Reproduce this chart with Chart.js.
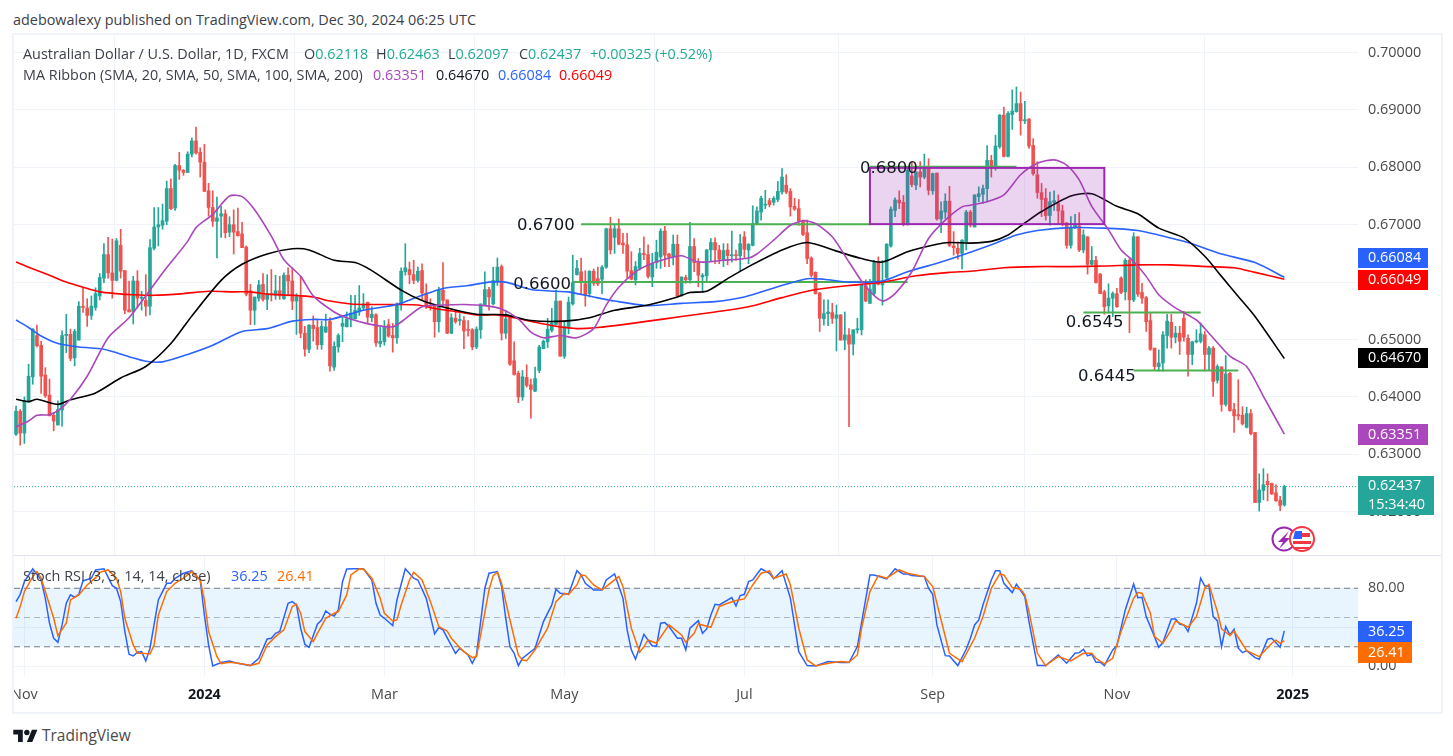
<!DOCTYPE html>
<html>
<head>
<meta charset="utf-8">
<title>AUD/USD</title>
<script src="https://cdn.jsdelivr.net/npm/chart.js@4"></script>
<style>
    html, body { margin: 0; padding: 0; background: #fff; }
    body { width: 1453px; height: 756px; position: relative; overflow: hidden; font-family: "Open Sans", sans-serif; color: #3c3f48; }
    canvas { position: absolute; }
    #frame { position: absolute; left: 12px; top: 33px; width: 1427px; height: 677px; border: 2px solid #f0f3fa; }
    #split { position: absolute; left: 14px; top: 555px; width: 1427px; height: 1px; background: #e0e3eb; }
    .t { position: absolute; white-space: pre; font-size: 14.4px; line-height: 18px; }
    #logo { position: absolute; left: 13px; top: 727px; }
    #events { position: absolute; left: 1268px; top: 522px; }
</style>
</head>
<body>
<div class="t" style="left:13px;top:11px">adebowalexy published on TradingView.com, Dec 30, 2024 06:25 UTC</div>
<div id="frame"></div>
<canvas id="price-chart" width="1427" height="520" style="left:14px;top:35px"></canvas>
<canvas id="rsi-chart" width="1427" height="156" style="left:14px;top:556px"></canvas>
<div id="split"></div>

<div class="t" style="left:23px;top:45px">Australian Dollar / U.S. Dollar, 1D, FXCM</div>
<div class="t" style="left:304px;top:45px">O<span style="color:#22ab94">0.62118</span></div>
<div class="t" style="left:376px;top:45px">H<span style="color:#22ab94">0.62463</span></div>
<div class="t" style="left:448px;top:45px">L<span style="color:#22ab94">0.62097</span></div>
<div class="t" style="left:519px;top:45px">C<span style="color:#22ab94">0.62437</span></div>
<div class="t" style="left:590px;top:45px;color:#22ab94">+0.00325 (+0.52%)</div>
<div class="t" style="left:23px;top:66px">MA Ribbon (SMA, 20, SMA, 50, SMA, 100, SMA, 200)</div>
<div class="t" style="left:373px;top:66px;color:#ab47bc">0.63351</div>
<div class="t" style="left:436px;top:66px;color:#131722">0.64670</div>
<div class="t" style="left:498px;top:66px;color:#2962ff">0.66084</div>
<div class="t" style="left:559px;top:66px;color:#ff0000">0.66049</div>
<div class="t" style="left:23px;top:567px">Stoch RSI (3, 3, 14, 14, close)</div>
<div class="t" style="left:231px;top:567px;color:#2962ff">36.25</div>
<div class="t" style="left:277px;top:567px;color:#ff6d00">26.41</div>

<svg id="events" width="50" height="34" viewBox="0 0 50 34">
    <circle cx="16" cy="17" r="11.5" fill="#fff" stroke="#9c27b0" stroke-width="2"/>
    <path d="M21 9 L10 20 L15 20 L11 27 L22 16 L17 16 Z" fill="#9c27b0"/>
    <circle cx="34" cy="17" r="12" fill="#fff" stroke="#f23645" stroke-width="2"/>
    <path d="M25 19 H43 V22 H25 Z M27 25 H41 V27 H27 Z M34 11 H42 V15 H34 Z" fill="#f23645"/>
    <path d="M27 9 H34 V17 H25 Z" fill="#2962ff"/>
</svg>

<svg id="logo" width="25" height="19" viewBox="0 0 36 28" fill="#131722">
    <path d="M14 22H7V11H0V4h14v18zM28 22h-8l7.5-18h8L28 22z"/><circle cx="20" cy="8" r="4"/>
</svg>
<div class="t" style="left:42px;top:726px;font-size:15.5px;color:#4a4a4a">TradingView</div>

<script>
// Daily AUD/USD bars
const barOpen = [
    0.6335,0.6375,0.6337,0.6391,0.6435,0.6507,0.6490,0.6438,0.6403,0.6368,
    0.6351,0.6377,0.6507,0.6509,0.6468,0.6499,0.6558,0.6555,0.6542,0.6556,
    0.6576,0.6607,0.6648,0.6616,0.6603,0.6664,0.6620,0.6552,0.6548,0.6602,
    0.6572,0.6568,0.6558,0.6659,0.6696,0.6699,0.6706,0.6763,0.6729,0.6803,
    0.6795,0.6791,0.6823,0.6846,0.6826,0.6809,0.6759,0.6730,0.6706,0.6715,
    0.6719,0.6687,0.6700,0.6688,0.6684,0.6661,0.6585,0.6551,0.6572,0.6596,
    0.6570,0.6580,0.6577,0.6585,0.6571,0.6612,0.6602,0.6567,0.6574,0.6511,
    0.6483,0.6525,0.6521,0.6491,0.6513,0.6532,0.6452,0.6487,0.6523,0.6522,
    0.6536,0.6536,0.6548,0.6555,0.6565,0.6538,0.6543,0.6493,0.6496,0.6526,
    0.6507,0.6503,0.6562,0.6618,0.6622,0.6613,0.6603,0.6620,0.6581,0.6559,
    0.6559,0.6531,0.6586,0.6569,0.6511,0.6537,0.6533,0.6533,0.6517,0.6517,
    0.6487,0.6517,0.6561,0.6587,0.6562,0.6600,0.6627,0.6511,0.6538,0.6463,
    0.6441,0.6400,0.6434,0.6421,0.6410,0.6446,0.6484,0.6496,0.6516,0.6526,
    0.6567,0.6471,0.6521,0.6562,0.6613,0.6618,0.6597,0.6580,0.6619,0.6606,
    0.6605,0.6626,0.6693,0.6678,0.6693,0.6668,0.6665,0.6620,0.6604,0.6624,
    0.6650,0.6648,0.6609,0.6634,0.6644,0.6689,0.6649,0.6644,0.6666,0.6577,
    0.6608,0.6604,0.6662,0.6634,0.6609,0.6611,0.6656,0.6669,0.6656,0.6638,
    0.6656,0.6646,0.6647,0.6646,0.6679,0.6656,0.6664,0.6702,0.6722,0.6734,
    0.6742,0.6739,0.6744,0.6757,0.6769,0.6758,0.6732,0.6728,0.6707,0.6686,
    0.6642,0.6617,0.6581,0.6536,0.6545,0.6547,0.6537,0.6543,0.6499,0.6508,
    0.6492,0.6517,0.6517,0.6594,0.6563,0.6580,0.6634,0.6595,0.6608,0.6663,
    0.6725,0.6743,0.6739,0.6701,0.6785,0.6769,0.6792,0.6783,0.6800,0.6759,
    0.6790,0.6710,0.6722,0.6741,0.6663,0.6659,0.6650,0.6670,0.6722,0.6696,
    0.6749,0.6753,0.6763,0.6812,0.6800,0.6836,0.6891,0.6819,0.6892,0.6897,
    0.6911,0.6881,0.6884,0.6838,0.6787,0.6756,0.6746,0.6716,0.6739,0.6737,
    0.6724,0.6703,0.6664,0.6695,0.6698,0.6656,0.6679,0.6631,0.6638,0.6614,
    0.6583,0.6559,0.6572,0.6580,0.6607,0.6583,0.6638,0.6569,0.6679,0.6582,
    0.6573,0.6533,0.6485,0.6453,0.6459,0.6507,0.6530,0.6504,0.6511,0.6537,
    0.6502,0.6474,0.6496,0.6497,0.6508,0.6474,0.6485,0.6429,0.6452,0.6387,
    0.6441,0.6378,0.6369,0.6368,0.6347,0.6371,0.6338,0.6216,0.6237,0.6253,
    0.6249,0.6233,0.6220,0.62118
];
const barHigh = [
    0.6384,0.6378,0.6400,0.6457,0.6519,0.6525,0.6497,0.6451,0.6431,0.6373,
    0.6393,0.6515,0.6544,0.6518,0.6518,0.6566,0.6590,0.6571,0.6576,0.6590,
    0.6615,0.6667,0.6678,0.6675,0.6676,0.6692,0.6620,0.6602,0.6610,0.6620,
    0.6584,0.6613,0.6674,0.6730,0.6730,0.6736,0.6776,0.6780,0.6805,0.6826,
    0.6796,0.6827,0.6851,0.6870,0.6834,0.6840,0.6772,0.6759,0.6748,0.6732,
    0.6726,0.6714,0.6726,0.6729,0.6704,0.6663,0.6596,0.6574,0.6603,0.6615,
    0.6613,0.6622,0.6612,0.6610,0.6616,0.6625,0.6625,0.6580,0.6610,0.6523,
    0.6526,0.6541,0.6534,0.6532,0.6544,0.6538,0.6496,0.6510,0.6542,0.6548,
    0.6577,0.6577,0.6594,0.6580,0.6565,0.6557,0.6545,0.6521,0.6533,0.6535,
    0.6528,0.6564,0.6625,0.6667,0.6635,0.6638,0.6626,0.6632,0.6597,0.6571,
    0.6560,0.6591,0.6634,0.6569,0.6545,0.6551,0.6545,0.6540,0.6533,0.6519,
    0.6522,0.6562,0.6618,0.6591,0.6626,0.6642,0.6630,0.6551,0.6542,0.6496,
    0.6445,0.6446,0.6456,0.6431,0.6452,0.6490,0.6499,0.6537,0.6554,0.6586,
    0.6567,0.6533,0.6574,0.6647,0.6638,0.6642,0.6620,0.6620,0.6623,0.6626,
    0.6629,0.6694,0.6713,0.6701,0.6710,0.6685,0.6685,0.6653,0.6636,0.6659,
    0.6679,0.6665,0.6650,0.6673,0.6693,0.6697,0.6650,0.6682,0.6682,0.6609,
    0.6612,0.6704,0.6676,0.6641,0.6615,0.6657,0.6676,0.6677,0.6664,0.6667,
    0.6667,0.6689,0.6656,0.6683,0.6688,0.6667,0.6733,0.6731,0.6750,0.6760,
    0.6746,0.6749,0.6775,0.6798,0.6787,0.6763,0.6746,0.6744,0.6708,0.6708,
    0.6644,0.6618,0.6582,0.6569,0.6569,0.6563,0.6560,0.6543,0.6548,0.6519,
    0.6517,0.6537,0.6595,0.6604,0.6605,0.6638,0.6644,0.6638,0.6667,0.6731,
    0.6747,0.6759,0.6751,0.6798,0.6810,0.6792,0.6810,0.6823,0.6815,0.6790,
    0.6790,0.6740,0.6754,0.6767,0.6688,0.6670,0.6674,0.6725,0.6725,0.6752,
    0.6766,0.6769,0.6838,0.6821,0.6856,0.6892,0.6905,0.6897,0.6935,0.6940,
    0.6931,0.6915,0.6885,0.6850,0.6810,0.6772,0.6763,0.6757,0.6759,0.6752,
    0.6734,0.6704,0.6714,0.6718,0.6721,0.6691,0.6679,0.6662,0.6645,0.6615,
    0.6586,0.6597,0.6583,0.6589,0.6609,0.6641,0.6641,0.6686,0.6679,0.6598,
    0.6575,0.6546,0.6485,0.6482,0.6514,0.6544,0.6544,0.6523,0.6523,0.6549,
    0.6508,0.6497,0.6517,0.6529,0.6514,0.6488,0.6488,0.6456,0.6453,0.6472,
    0.6443,0.6389,0.6430,0.6383,0.6382,0.6378,0.6338,0.6266,0.6275,0.6266,
    0.6250,0.6247,0.6227,0.62463
];
const barLow = [
    0.6333,0.6316,0.6319,0.6390,0.6422,0.6487,0.6406,0.6399,0.6367,0.6341,
    0.6351,0.6349,0.6477,0.6463,0.6454,0.6499,0.6547,0.6523,0.6535,0.6551,
    0.6569,0.6599,0.6607,0.6572,0.6602,0.6607,0.6545,0.6548,0.6527,0.6555,
    0.6551,0.6541,0.6543,0.6656,0.6663,0.6692,0.6700,0.6726,0.6725,0.6779,
    0.6786,0.6791,0.6818,0.6823,0.6783,0.6758,0.6715,0.6697,0.6642,0.6678,
    0.6677,0.6679,0.6649,0.6680,0.6660,0.6576,0.6526,0.6526,0.6567,0.6567,
    0.6552,0.6567,0.6570,0.6570,0.6570,0.6576,0.6552,0.6509,0.6503,0.6471,
    0.6477,0.6497,0.6483,0.6483,0.6512,0.6445,0.6446,0.6478,0.6496,0.6522,
    0.6522,0.6536,0.6542,0.6551,0.6528,0.6531,0.6488,0.6487,0.6490,0.6504,
    0.6478,0.6493,0.6551,0.6612,0.6597,0.6597,0.6600,0.6568,0.6554,0.6551,
    0.6504,0.6513,0.6560,0.6510,0.6510,0.6528,0.6525,0.6484,0.6506,0.6482,
    0.6484,0.6502,0.6560,0.6551,0.6560,0.6594,0.6499,0.6502,0.6455,0.6438,
    0.6390,0.6394,0.6417,0.6363,0.6409,0.6442,0.6484,0.6486,0.6513,0.6525,
    0.6471,0.6467,0.6510,0.6560,0.6612,0.6580,0.6558,0.6574,0.6594,0.6594,
    0.6580,0.6624,0.6649,0.6650,0.6665,0.6650,0.6607,0.6604,0.6595,0.6621,
    0.6639,0.6607,0.6592,0.6624,0.6624,0.6627,0.6627,0.6630,0.6575,0.6575,
    0.6598,0.6598,0.6618,0.6592,0.6584,0.6602,0.6635,0.6632,0.6632,0.6627,
    0.6630,0.6635,0.6638,0.6620,0.6641,0.6632,0.6663,0.6700,0.6708,0.6728,
    0.6731,0.6734,0.6740,0.6753,0.6754,0.6715,0.6725,0.6699,0.6681,0.6632,
    0.6609,0.6579,0.6514,0.6525,0.6524,0.6528,0.6480,0.6499,0.6482,0.6348,
    0.6473,0.6511,0.6508,0.6566,0.6563,0.6577,0.6595,0.6560,0.6606,0.6661,
    0.6714,0.6728,0.6698,0.6699,0.6766,0.6761,0.6766,0.6780,0.6752,0.6753,
    0.6708,0.6686,0.6711,0.6662,0.6647,0.6640,0.6623,0.6656,0.6696,0.6696,
    0.6740,0.6737,0.6740,0.6783,0.6795,0.6833,0.6818,0.6818,0.6866,0.6896,
    0.6856,0.6876,0.6833,0.6786,0.6746,0.6714,0.6708,0.6699,0.6725,0.6702,
    0.6698,0.6659,0.6659,0.6693,0.6653,0.6651,0.6614,0.6627,0.6598,0.6580,
    0.6544,0.6546,0.6540,0.6556,0.6580,0.6569,0.6512,0.6566,0.6575,0.6563,
    0.6514,0.6481,0.6447,0.6445,0.6445,0.6485,0.6485,0.6494,0.6474,0.6497,
    0.6436,0.6456,0.6494,0.6494,0.6445,0.6447,0.6401,0.6424,0.6375,0.6384,
    0.6375,0.6338,0.6360,0.6351,0.6346,0.6334,0.6216,0.6201,0.6221,0.6219,
    0.6230,0.6218,0.6202,0.62097
];
const barClose = [
    0.6375,0.6337,0.6394,0.6436,0.6518,0.6489,0.6436,0.6402,0.6367,0.6358,
    0.6378,0.6507,0.6509,0.6467,0.6514,0.6558,0.6556,0.6542,0.6558,0.6580,
    0.6608,0.6648,0.6616,0.6603,0.6672,0.6619,0.6551,0.6548,0.6602,0.6572,
    0.6573,0.6558,0.6660,0.6696,0.6700,0.6707,0.6763,0.6728,0.6803,0.6795,
    0.6791,0.6823,0.6846,0.6825,0.6809,0.6758,0.6730,0.6706,0.6712,0.6719,
    0.6686,0.6700,0.6687,0.6681,0.6660,0.6579,0.6551,0.6574,0.6595,0.6570,
    0.6580,0.6578,0.6585,0.6576,0.6612,0.6602,0.6567,0.6574,0.6511,0.6483,
    0.6525,0.6519,0.6491,0.6523,0.6522,0.6454,0.6488,0.6507,0.6528,0.6536,
    0.6546,0.6551,0.6555,0.6562,0.6539,0.6544,0.6494,0.6497,0.6521,0.6506,
    0.6503,0.6562,0.6619,0.6625,0.6613,0.6603,0.6619,0.6581,0.6557,0.6558,
    0.6531,0.6586,0.6568,0.6511,0.6538,0.6531,0.6535,0.6515,0.6516,0.6487,
    0.6518,0.6562,0.6587,0.6574,0.6603,0.6626,0.6511,0.6536,0.6457,0.6439,
    0.6400,0.6435,0.6420,0.6413,0.6432,0.6487,0.6497,0.6518,0.6529,0.6567,
    0.6471,0.6523,0.6565,0.6599,0.6624,0.6599,0.6577,0.6619,0.6598,0.6597,
    0.6626,0.6693,0.6656,0.6693,0.6666,0.6665,0.6619,0.6605,0.6627,0.6650,
    0.6648,0.6610,0.6632,0.6652,0.6689,0.6647,0.6644,0.6666,0.6576,0.6609,
    0.6604,0.6662,0.6634,0.6612,0.6612,0.6656,0.6669,0.6656,0.6640,0.6655,
    0.6646,0.6647,0.6646,0.6667,0.6657,0.6666,0.6702,0.6724,0.6746,0.6735,
    0.6735,0.6746,0.6758,0.6783,0.6757,0.6731,0.6727,0.6707,0.6683,0.6641,
    0.6612,0.6580,0.6537,0.6545,0.6548,0.6537,0.6543,0.6499,0.6508,0.6492,
    0.6517,0.6518,0.6595,0.6567,0.6588,0.6634,0.6596,0.6602,0.6666,0.6727,
    0.6743,0.6738,0.6700,0.6795,0.6770,0.6792,0.6783,0.6798,0.6760,0.6789,
    0.6710,0.6724,0.6741,0.6664,0.6660,0.6650,0.6673,0.6722,0.6699,0.6752,
    0.6754,0.6763,0.6812,0.6800,0.6837,0.6891,0.6819,0.6894,0.6898,0.6911,
    0.6881,0.6883,0.6837,0.6789,0.6756,0.6744,0.6716,0.6740,0.6742,0.6724,
    0.6701,0.6664,0.6695,0.6700,0.6656,0.6682,0.6631,0.6638,0.6599,0.6580,
    0.6557,0.6572,0.6580,0.6557,0.6582,0.6638,0.6569,0.6679,0.6579,0.6572,
    0.6531,0.6483,0.6453,0.6459,0.6508,0.6532,0.6504,0.6511,0.6497,0.6504,
    0.6474,0.6496,0.6498,0.6510,0.6474,0.6485,0.6427,0.6453,0.6387,0.6440,
    0.6376,0.6367,0.6367,0.6353,0.6371,0.6336,0.6216,0.6238,0.6247,0.6247,
    0.6231,0.6219,0.6211,0.62437
];

// Moving averages: bar number + value where the curve was read
const sma20Bars = [0,3,5,8,10,13,17,22,27,31,35,41,43,47,51,54,57,61,64,68,71,76,79,85,90,93,97,102,107,112,116,120,123,126,130,134,138,141,144,148,151,155,159,163,169,175,177,181,185,188,191,195,199,203,207,210,214,218,222,226,228,232,236,240,244,248,251,254,257,261,264,267,270,273,277,282,285,290,294,298,303];
const sma20Vals = [0.6348,0.6358,0.6368,0.6369,0.6376,0.6396,0.6436,0.6503,0.6538,0.6576,0.6616,0.6671,0.6695,0.6718,0.6750,0.6749,0.6726,0.6680,0.6639,0.6610,0.6576,0.6548,0.6538,0.6526,0.6522,0.6536,0.6557,0.6560,0.6561,0.6559,0.6553,0.6536,0.6513,0.6503,0.6507,0.6503,0.6519,0.6560,0.6591,0.6618,0.6630,0.6640,0.6646,0.6635,0.6638,0.6642,0.6649,0.6673,0.6699,0.6707,0.6702,0.6679,0.6635,0.6592,0.6567,0.6580,0.6618,0.6676,0.6708,0.6731,0.6734,0.6740,0.6752,0.6787,0.6807,0.6813,0.6804,0.6778,0.6732,0.6691,0.6656,0.6636,0.6610,0.6578,0.6555,0.6534,0.6511,0.6471,0.6453,0.6401,0.63351];
const sma50Bars = [0,3,5,10,13,19,25,31,37,42,49,54,60,66,70,76,81,85,92,97,103,110,117,123,131,137,143,151,158,161,165,170,175,183,189,196,202,207,213,220,223,228,233,237,241,245,252,257,263,268,273,279,284,288,292,296,303];
const sma50Vals = [0.6396,0.6392,0.6396,0.6387,0.6395,0.6407,0.6433,0.6453,0.6493,0.6541,0.6603,0.6631,0.6649,0.6658,0.6656,0.6638,0.6634,0.6620,0.6586,0.6568,0.6555,0.6544,0.6543,0.6533,0.6532,0.6538,0.6551,0.6560,0.6574,0.6582,0.6584,0.6606,0.6627,0.6656,0.6669,0.6654,0.6641,0.6635,0.6653,0.6666,0.6669,0.6668,0.6671,0.6682,0.6703,0.6723,0.6750,0.6754,0.6732,0.6719,0.6694,0.6677,0.6645,0.6610,0.6575,0.6540,0.6467];
const sma100Bars = [0,3,6,10,15,21,27,31,35,41,47,54,60,66,71,75,83,91,97,102,108,113,117,123,129,132,138,143,151,159,167,174,182,189,193,199,207,213,221,228,233,239,244,252,260,268,273,280,288,296,303];
const sma100Vals = [0.6534,0.6521,0.6506,0.6493,0.6487,0.6483,0.6470,0.6462,0.6461,0.6474,0.6490,0.6514,0.6519,0.6532,0.6535,0.6535,0.6551,0.6561,0.6577,0.6589,0.6594,0.6600,0.6600,0.6587,0.6584,0.6583,0.6574,0.6567,0.6559,0.6563,0.6566,0.6574,0.6592,0.6606,0.6605,0.6600,0.6602,0.6618,0.6635,0.6652,0.6665,0.6682,0.6690,0.6695,0.6694,0.6690,0.6682,0.6669,0.6649,0.6634,0.66084];
const sma200Bars = [0,3,8,12,16,20,24,28,33,40,46,52,56,60,66,71,75,80,85,91,96,100,105,110,115,119,124,129,134,139,145,151,159,167,175,183,191,199,207,215,223,228,236,244,252,260,268,276,285,291,296,303];
const sma200Vals = [0.6635,0.6626,0.6612,0.6600,0.6591,0.6583,0.6580,0.6578,0.6577,0.6580,0.6584,0.6583,0.6583,0.6579,0.6577,0.6574,0.6567,0.6562,0.6561,0.6561,0.6560,0.6554,0.6549,0.6543,0.6543,0.6538,0.6530,0.6523,0.6519,0.6521,0.6526,0.6532,0.6540,0.6548,0.6557,0.6573,0.6587,0.6594,0.6600,0.6611,0.6617,0.6619,0.6625,0.6627,0.6627,0.6628,0.6630,0.6630,0.6627,0.6625,0.6617,0.66049];

// Stoch RSI K and D
const rsiKBars = [0,1,2,4,6,7,8,9,10,11,12,13,14,15,16,18,19,21,23,24,25,26,27,28,29,30,31,32,34,35,36,37,38,40,42,44,45,46,47,49,51,53,56,58,60,61,62,63,65,66,67,68,69,70,72,73,74,75,76,77,78,79,81,83,85,86,87,88,90,91,93,95,96,98,100,101,102,105,106,108,109,110,112,113,115,116,117,118,119,120,121,124,126,128,129,130,132,134,135,136,138,140,141,143,145,146,147,148,150,152,153,154,155,156,158,159,160,161,163,164,165,166,167,168,171,172,173,174,175,176,178,180,181,183,185,187,189,191,194,197,199,201,204,205,208,210,212,213,214,217,218,219,220,222,223,225,227,228,229,230,231,233,234,235,236,238,239,241,242,244,246,249,251,253,254,255,256,257,258,259,260,262,263,265,267,268,269,270,271,273,274,276,277,278,279,280,281,282,283,284,285,286,287,288,289,290,291,292,293,294,296,297,299,300,302,303];
const rsiKVals = [66.3,73.8,86.8,100,88.5,69.7,44.1,28.7,24.6,42.4,64.6,73.2,70.8,73.8,87.5,90.3,98.8,100,82.7,80,66.3,35.6,12.3,10.6,14.4,15,5.5,18.5,68,76.6,85.1,85.1,90.3,95.4,97.8,88.5,52.6,21.9,0.3,3.8,5.5,3,0.7,8.2,28,28.7,33.8,35.6,64.6,66.3,62.9,39,22.6,19.5,43.1,47.5,56.8,53.3,51.6,57.8,86.8,99.8,100,100,88.5,64.6,52.6,49.2,41.7,68,100,90.3,88.5,69.7,33.2,39.7,37.3,13.3,18.5,11.6,3.1,11.6,80,95.4,97.1,81.7,49.2,20.2,13.3,0.7,8.2,18.5,45.8,62.9,79,74.9,73.8,98.1,93.7,85.1,78.3,78.3,88.5,94.7,69.7,37.3,16.8,7.2,32.8,20.9,20.9,44.1,44.8,40.7,28.7,28.7,16.8,39,46.8,33.8,38.3,52.6,63.6,62.9,70.4,61.9,72.5,73.8,86.8,88.5,100,95.4,89.6,98.1,69.7,15,0.7,0.3,4.8,3.8,3.8,20.2,93.7,93.7,89.6,100,94.7,94.7,93,92,80,73.8,42.4,10.9,10.6,0.7,17.4,28.7,42.4,47.5,62.9,88.5,98.1,98.1,85.1,75.6,84.1,71.5,45.8,0.7,0.7,11.6,3.1,13.3,14,17.4,10.6,12.3,4.1,4.1,0.7,16.8,21.2,57.8,84.4,70.4,70.8,50.9,40.7,19.5,24.3,48.5,48.5,43.4,42.4,35.6,50.3,64.6,90.3,82.4,82.4,50.9,46.8,20.2,40.7,32.1,37.9,18.5,14,16.1,8.9,7.2,27.7,28.7,19.5,36.25];
const rsiDBars = [0,1,2,4,5,6,7,9,10,12,13,15,17,19,20,22,24,25,26,28,29,30,32,33,34,36,38,40,42,44,45,46,48,49,51,53,56,58,60,62,64,66,67,68,69,71,72,74,76,77,79,80,82,83,85,87,88,90,91,92,94,95,97,99,101,103,104,106,107,109,110,111,113,114,115,116,118,120,121,122,124,127,129,131,132,134,135,136,138,140,144,145,147,149,150,151,153,156,158,159,160,162,163,166,168,170,172,174,176,178,180,181,184,185,187,189,191,194,197,199,201,202,204,206,208,211,213,217,219,221,223,226,229,231,233,235,236,238,240,241,242,244,246,247,249,252,255,257,258,260,262,264,267,268,269,271,272,274,276,277,280,282,284,285,287,288,290,291,294,297,300,301,302,303];
const rsiDVals = [49.2,61.2,76.6,92,97.1,90.3,76.6,49.2,31.5,44.1,68,73.2,83.4,90.9,96.4,98.8,90.3,76.6,49.2,21.9,13.3,13.3,12.6,21.9,52.6,76.6,85.1,90.3,97.1,88.5,68,35.6,9.9,2.7,4.1,3.1,0.7,3.1,21.9,30.4,37.3,61.2,63.6,54.4,35.6,25.3,33.8,49.2,54.4,56.1,73.2,93.7,100,99.8,90.3,69.7,54.4,46.5,47.5,62.9,88.5,96.4,88.5,66.3,40.7,36.2,28.7,19.1,15,8.9,9.9,32.1,78.3,93,96.4,85.1,47.5,11.6,6.5,5.8,16.8,39,66.3,74.9,73.8,83.4,93.7,93,83.4,78.3,92,81.7,39,14.4,20.2,27,23.6,42.4,35.6,32.1,24.6,33.8,43.4,40,61.2,64.6,67.4,69.1,83.4,95.4,97.8,90.3,94.7,83.4,39,6.5,0.3,3.1,4.8,4.1,11.6,39,76.6,93,90.3,98.8,95.4,92,81.7,47.5,13.3,4.8,28.7,50.9,80,94.7,93.7,80.7,79,73.2,56.1,13.3,0.3,4.1,9.9,5.5,13.3,13.3,8.2,2.4,8.2,35.6,69.7,75.6,74.9,54.4,30.4,23.6,37.3,46.5,40,50.9,80,84.1,56.1,38.3,31.5,36.2,16.1,9.9,23.6,26.7,23.6,26.41];

// Time axis
const tickBars = [2, 45, 88, 131, 174, 219, 263, 305];
const tickLabels = ['Nov', '2024', 'Mar', 'May', 'Jul', 'Sep', 'Nov', '2025'];
const priceTicks = [0.62, 0.63, 0.64, 0.65, 0.66, 0.67, 0.68, 0.69, 0.70];
const rsiTicks = [0, 40, 80];

// Hand drawn levels
const levelNames = ['0.6800', '0.6700', '0.6600', '0.6545', '0.6445'];
const levelPrices = [0.6801, 0.6701, 0.6600, 0.6547, 0.6446];
const levelFrom = [204, 135, 133, 255, 267];
const levelTo = [239, 204, 213, 283, 292];

const boxBars = [204, 260];
const boxPrices = [0.6701, 0.6799];
const lastPrice = 0.62437;

const UP = '#26a69a';
const DOWN = '#ef5350';
const FONT = '"Open Sans", sans-serif';
const xMin = -0.485, xMax = 320.6;

const barColors = barOpen.map((o, i) => barClose[i] >= o ? UP : DOWN);

function pairs(xs, ys) {
    return xs.map((x, i) => ({ x: x, y: ys[i] }));
}

function curve(xs, ys, color, order) {
    return { type: 'line', data: pairs(xs, ys), borderColor: color, borderWidth: 1.6, pointRadius: 0, tension: 0.25, order: order };
}

function flat(y, x0, x1, color, width, dash, order) {
    return { type: 'line', data: [{ x: x0, y: y }, { x: x1, y: y }], borderColor: color, borderWidth: width, borderDash: dash, pointRadius: 0, order: order };
}

// The plot has to reach the pane edges, so axes may not ask for room around their labels
function noPadding(scale) {
    scale.getPadding = () => ({ left: 0, top: 0, right: 0, bottom: 0 });
}

function xAxis(showLabels) {
    return {
        type: 'linear', min: xMin, max: xMax, offset: false,
        grid: { color: '#f0f3fa', drawTicks: false },
        border: { display: false },
        beforeUpdate: noPadding,
        afterBuildTicks: scale => { scale.ticks = tickBars.map(v => ({ value: v })); },
        afterFit: scale => { scale.height = showLabels ? 35 : 0; },
        ticks: {
            display: showLabels, autoSkip: false, maxRotation: 0, padding: 9,
            color: ctx => ctx.index === 1 || ctx.index === 7 ? '#131722' : '#4a4a4a',
            font: ctx => ({ family: FONT, size: 14.4, weight: ctx.index === 1 || ctx.index === 7 ? 'bold' : 'normal' }),
            callback: (v, i) => tickLabels[i]
        }
    };
}

function yAxis(min, max, ticks, digits) {
    return {
        position: 'right', min: min, max: max,
        grid: { color: '#f0f3fa', drawTicks: false },
        border: { display: false },
        beforeUpdate: noPadding,
        afterBuildTicks: scale => { scale.ticks = ticks.map(v => ({ value: v })); },
        afterFit: scale => { scale.width = 83; },
        ticks: { color: '#4a4a4a', padding: 10, font: { family: FONT, size: 14.4 }, callback: v => v.toFixed(digits) }
    };
}

// Coloured value tags on the right axis. Tags are pushed apart by hand like the original.
function drawTag(ctx, top, bottom, width, color, lines) {
    ctx.fillStyle = color;
    ctx.fillRect(1344, top, width, bottom - top);
    ctx.fillStyle = '#fff';
    ctx.textAlign = 'left';
    ctx.textBaseline = 'middle';
    ctx.font = '14.4px ' + FONT;
    const step = (bottom - top) / lines.length;
    lines.forEach((t, i) => ctx.fillText(t, 1354, top + step * (i + 0.5)));
}

const priceOverlay = {
    id: 'priceOverlay',
    afterDatasetsDraw(chart) {
        const { ctx, scales: { x, y } } = chart;
        ctx.save();
        const bx = x.getPixelForValue(boxBars[0]), bw = x.getPixelForValue(boxBars[1]) - bx;
        const by = y.getPixelForValue(boxPrices[1]), bh = y.getPixelForValue(boxPrices[0]) - by;
        ctx.fillStyle = 'rgba(156,39,176,0.2)';
        ctx.fillRect(bx, by, bw, bh);
        ctx.strokeStyle = '#9c27b0';
        ctx.lineWidth = 2;
        ctx.strokeRect(bx, by, bw, bh);

        ctx.fillStyle = '#131722';
        ctx.font = '16.5px "DejaVu Sans"';
        ctx.textAlign = 'right';
        ctx.textBaseline = 'middle';
        // label right edge against its level line
        const labelBars = [215.4, 133.5, 132.6, 264.6, 267.5];
        const drop = [2, 2, 3, 10, 6];
        levelNames.forEach((name, i) => {
            ctx.fillText(name, x.getPixelForValue(labelBars[i]), y.getPixelForValue(levelPrices[i]) + drop[i]);
        });
        ctx.restore();
    },
    afterDraw(chart) {
        const ctx = chart.ctx;
        ctx.save();
        drawTag(ctx, 213, 233, 70, '#2962ff', ['0.66084']);
        drawTag(ctx, 235, 255, 70, '#ff0000', ['0.66049']);
        drawTag(ctx, 313, 333, 70, '#000000', ['0.64670']);
        drawTag(ctx, 389, 410, 70, '#ab47bc', ['0.63351']);
        drawTag(ctx, 441, 480, 76, UP, ['0.62437', '15:34:40']);
        ctx.restore();
    }
};

const rsiOverlay = {
    id: 'rsiOverlay',
    afterDraw(chart) {
        const ctx = chart.ctx;
        ctx.save();
        drawTag(ctx, 65, 86, 54, '#2962ff', ['36.25']);
        drawTag(ctx, 86, 107, 54, '#ff6d00', ['26.41']);
        ctx.restore();
    }
};

const baseOptions = {
    responsive: false,
    animation: false,
    events: [],
    layout: { padding: 0, autoPadding: false },
    plugins: { legend: { display: false }, tooltip: { enabled: false } }
};

const priceDatasets = [
    { label: 'wick', data: barHigh.map((h, i) => ({ x: i, y: [barLow[i], h] })), backgroundColor: barColors, barThickness: 1, grouped: false, order: 12 },
    { label: 'body', data: barOpen.map((o, i) => ({ x: i, y: [o, barClose[i]] })), backgroundColor: barColors, barThickness: 3, minBarLength: 1, grouped: false, order: 11 },
    curve(sma200Bars, sma200Vals, '#ff0000', 4),
    curve(sma100Bars, sma100Vals, '#2962ff', 3),
    curve(sma50Bars, sma50Vals, '#000000', 2),
    curve(sma20Bars, sma20Vals, '#ab47bc', 1),
    flat(lastPrice, xMin, xMax, '#22ab94', 1, [1, 2], 13)
];
levelNames.forEach((name, i) => {
    priceDatasets.push(flat(levelPrices[i], levelFrom[i], levelTo[i], '#4caf50', 2, [], 10));
});

new Chart(document.getElementById('price-chart'), {
    type: 'bar',
    data: { datasets: priceDatasets },
    options: Object.assign({}, baseOptions, {
        scales: { x: xAxis(false), y: yAxis(0.61246, 0.70305, priceTicks, 5) }
    }),
    plugins: [priceOverlay]
});

const upperBand = flat(80, xMin, xMax, '#787b86', 1, [6, 4], 5);
upperBand.fill = { value: 20 };
upperBand.backgroundColor = 'rgba(33,150,243,0.1)';

new Chart(document.getElementById('rsi-chart'), {
    type: 'line',
    data: {
        datasets: [
            upperBand,
            flat(50, xMin, xMax, 'rgba(120,123,134,0.5)', 1, [6, 4], 5),
            flat(20, xMin, xMax, '#787b86', 1, [6, 4], 5),
            { data: pairs(rsiKBars, rsiKVals), borderColor: '#2962ff', borderWidth: 1.5, pointRadius: 0, order: 2 },
            { data: pairs(rsiDBars, rsiDVals), borderColor: '#ff6d00', borderWidth: 1.5, pointRadius: 0, order: 1 }
        ]
    },
    options: Object.assign({}, baseOptions, {
        scales: { x: xAxis(true), y: yAxis(-11, 113.1, rsiTicks, 2) }
    }),
    plugins: [rsiOverlay]
});
</script>
</body>
</html>
